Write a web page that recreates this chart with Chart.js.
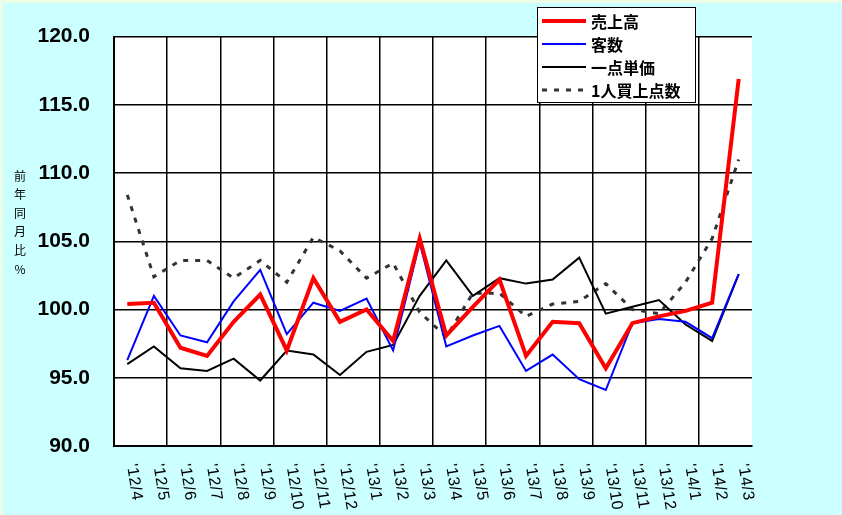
<!DOCTYPE html>
<html>
<head>
<meta charset="utf-8">
<script src="https://cdn.jsdelivr.net/npm/chart.js@4.4.1/dist/chart.umd.min.js"></script>
<style>
  html, body { margin: 0; padding: 0; background: #ccffff; }
  #wrap { width: 842px; height: 515px; }
</style>
</head>
<body>
<div id="wrap"><canvas id="chart" width="842" height="515"></canvas></div>
<script>
// months '12/4 .. '14/3
const months = ["'12/4", "'12/5", "'12/6", "'12/7", "'12/8", "'12/9", "'12/10", "'12/11", "'12/12",
    "'13/1", "'13/2", "'13/3", "'13/4", "'13/5", "'13/6", "'13/7", "'13/8", "'13/9", "'13/10",
    "'13/11", "'13/12", "'14/1", "'14/2", "'14/3"];

const sales = [100.4, 100.5, 97.2, 96.6, 99.1, 101.1, 97.0, 102.3, 99.1, 100.0, 97.7, 105.2,
    98.1, 100.2, 102.2, 96.6, 99.1, 99.0, 95.7, 99.0, 99.5, 99.9, 100.5, 116.9];
const customers = [96.3, 101.0, 98.1, 97.6, 100.6, 102.9, 98.2, 100.5, 99.9, 100.8, 97.0, 104.9,
    97.3, 98.1, 98.8, 95.5, 96.7, 94.9, 94.1, 99.0, 99.3, 99.1, 97.9, 102.6];
const unitPrice = [96.0, 97.3, 95.7, 95.5, 96.4, 94.8, 97.0, 96.7, 95.2, 96.9, 97.4, 101.0,
    103.6, 101.0, 102.3, 101.9, 102.2, 103.8, 99.7, 100.2, 100.7, 98.9, 97.7, 102.6];
const itemsPerCustomer = [108.4, 102.4, 103.6, 103.6, 102.3, 103.6, 102.0, 105.3, 104.3, 102.3, 103.4, 99.8,
    98.0, 101.2, 101.2, 99.5, 100.4, 100.6, 101.9, 100.0, 99.7, 102.0, 105.2, 111.0];

const yTitle = ['前', '年', '同', '月', '比', '%'];

// backgrounds: cyan page, thin pale green edge, white plot area
const backgroundPlugin = {
    id: 'bg',
    beforeDraw(chart) {
        const { ctx, chartArea } = chart;
        ctx.save();
        ctx.fillStyle = '#ccffff';
        ctx.fillRect(0, 0, chart.width, chart.height);
        ctx.fillStyle = '#eefde6';
        ctx.fillRect(0, 0, chart.width, 3);
        ctx.fillRect(0, 0, 3, chart.height);
        ctx.fillStyle = '#ffffff';
        ctx.fillRect(chartArea.left, chartArea.top, chartArea.right - chartArea.left, chartArea.bottom - chartArea.top);
        ctx.restore();
    }
};

// rotated month labels, vertical axis title, legend box
const decorPlugin = {
    id: 'decor',
    afterDraw(chart) {
        const ctx = chart.ctx;
        const xScale = chart.scales.x;
        ctx.save();
        ctx.fillStyle = '#000';

        // x labels, reading downward
        ctx.font = '16px "Liberation Sans", Arial, sans-serif';
        ctx.letterSpacing = '0.6px';
        ctx.textAlign = 'left';
        ctx.textBaseline = 'middle';
        months.forEach((m, i) => {
            const x = xScale.getPixelForTick(i) + 4;
            ctx.save();
            ctx.translate(x, 464);
            ctx.rotate(81 * Math.PI / 180);
            ctx.fillText(m, 0, 0);
            ctx.restore();
        });
        ctx.letterSpacing = '0px';

        // y title, stacked characters
        ctx.font = '12px "Noto Sans CJK JP", sans-serif';
        ctx.textAlign = 'center';
        yTitle.forEach((ch, i) => {
            ctx.fillText(ch, 20, 176 + i * 18.6);
        });

        // legend
        const lx = 537, ly = 7, lw = 158, lh = 95;
        ctx.fillStyle = '#fff';
        ctx.fillRect(lx, ly, lw, lh);
        ctx.strokeStyle = '#000';
        ctx.lineWidth = 1;
        ctx.strokeRect(lx + 0.5, ly + 0.5, lw, lh);
        ctx.font = 'bold 16px "Noto Sans CJK JP", sans-serif';
        ctx.textAlign = 'left';
        chart.data.datasets.forEach((ds, i) => {
            const y = ly + 14 + i * 23;
            ctx.beginPath();
            ctx.strokeStyle = ds.borderColor;
            ctx.lineWidth = ds.borderWidth;
            ctx.setLineDash(ds.borderDash || []);
            ctx.moveTo(lx + 5, y);
            ctx.lineTo(lx + 49, y);
            ctx.stroke();
            ctx.setLineDash([]);
            ctx.fillStyle = '#000';
            ctx.fillText(ds.label, lx + 54, y + 1);
        });
        ctx.restore();
    }
};

new Chart(document.getElementById('chart'), {
    type: 'line',
    data: {
        labels: months,
        datasets: [
            { label: '売上高', data: sales, borderColor: '#ff0000', borderWidth: 4 },
            { label: '客数', data: customers, borderColor: '#0000ff', borderWidth: 2 },
            { label: '一点単価', data: unitPrice, borderColor: '#000000', borderWidth: 2 },
            { label: '1人買上点数', data: itemsPerCustomer, borderColor: '#333333', borderWidth: 3, borderDash: [5, 7] }
        ]
    },
    options: {
        responsive: false,
        animation: false,
        devicePixelRatio: 1,
        layout: { padding: { top: 34, right: 90, left: 0, bottom: 0 } },
        elements: {
            point: { radius: 0 },
            line: { tension: 0, fill: false, borderCapStyle: 'butt', borderJoinStyle: 'miter' }
        },
        plugins: {
            legend: { display: false },
            tooltip: { enabled: false }
        },
        scales: {
            x: {
                type: 'category',
                offset: true,
                grid: {
                    offset: true,
                    drawTicks: false,
                    lineWidth: 1.5,
                    color: ctx => ctx.index % 2 === 0 ? '#000' : 'rgba(0,0,0,0)'
                },
                border: { display: true, color: '#000', width: 2 },
                ticks: { display: false },
                afterFit: s => { s.height = 69; }
            },
            y: {
                min: 90,
                max: 120,
                grid: { color: '#000', lineWidth: 1.5, drawTicks: false },
                border: { display: true, color: '#000', width: 2 },
                ticks: {
                    stepSize: 5,
                    padding: 24,
                    color: '#000',
                    font: { family: '"Liberation Sans", Arial, sans-serif', size: 21, weight: 'bold' },
                    callback: v => v.toFixed(1)
                },
                afterFit: s => { s.width = 114; }
            }
        }
    },
    plugins: [backgroundPlugin, decorPlugin]
});
</script>
</body>
</html>
